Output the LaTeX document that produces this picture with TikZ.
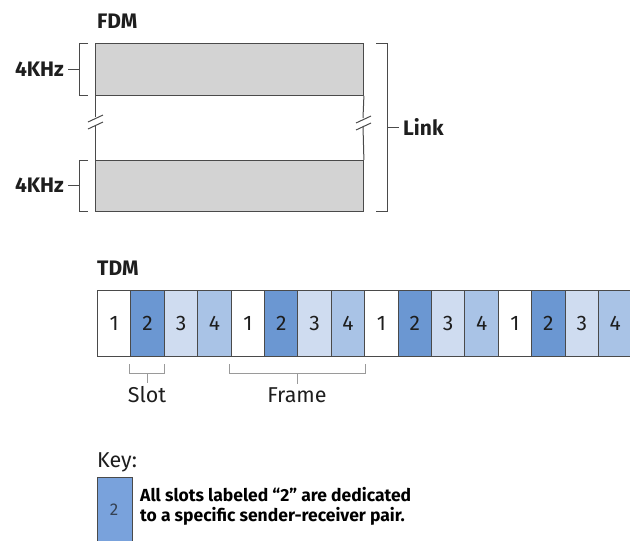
\documentclass[tikz,border=0pt]{standalone}
\usepackage{fontspec}
\setmainfont{Fira Sans}
\definecolor{barfill}{HTML}{D3D3D3}
\definecolor{lineclr}{HTML}{4A4A4A}
\definecolor{stwo}{HTML}{6B97D2}
\definecolor{sthree}{HTML}{CFDCF0}
\definecolor{sfour}{HTML}{A9C3E6}
\definecolor{keyblue}{HTML}{79A2DC}
\definecolor{bracegray}{HTML}{9A9A9A}
\definecolor{txt}{HTML}{1E1E1E}
\tikzset{
  bar/.style={fill=barfill, draw=lineclr, line width=0.9pt},
  brk/.style={draw=lineclr, line width=1pt},
  slotbox/.style={draw=lineclr, line width=1pt, minimum width=33.4pt, minimum height=66pt, inner sep=0pt, anchor=north west, font=\fontsize{21}{21}\selectfont, text=txt},
  lbl/.style={font=\bfseries\fontsize{21}{21}\selectfont, text=txt, inner sep=0pt},
  reglbl/.style={font=\fontsize{21.5}{21.5}\selectfont, text=txt, inner sep=0pt},
  brace/.style={draw=bracegray, line width=0.9pt},
  keytext/.style={anchor=west, inner sep=0pt, font=\bfseries\fontsize{17.5}{17.5}\selectfont, text=black}
}
\begin{document}
\begin{tikzpicture}[x=1pt,y=-1pt]
\useasboundingbox (0,0) rectangle (630,541);
\clip (0,0) rectangle (630,541);
% ---------- FDM ----------
\node[lbl, anchor=west] (fdm) at (97,21) {FDM};
\node[bar, anchor=north west, minimum width=268pt, minimum height=52pt, inner sep=0pt] (topbar) at (95,43) {};
\node[bar, anchor=north west, minimum width=268pt, minimum height=51pt, inner sep=0pt] (botbar) at (95,160) {};
% side lines with breaks
\coordinate (lb1) at (95,117);
\coordinate (lb2) at (95,125);
\coordinate (rb1) at (363,118);
\coordinate (rb2) at (363,126);
\draw[brk] (topbar.south west) -- (lb1);
\draw[brk] (lb2) -- (botbar.north west);
\draw[brk] (88,122) -- (103,115);
\draw[brk] (88,129) -- (103,122);
\draw[brk] (topbar.south east) -- (rb1);
\draw[brk] (rb2) -- (botbar.north east);
\draw[brk] (356,123) -- (371,116);
\draw[brk] (356,130) -- (371,123);
% left brackets
\draw[brk] (88,43) -- (79,43) -- (79,95) -- (88,95);
\draw[brk] (79,69) -- (68,69);
\node[lbl, anchor=east] (k1) at (64,69) {4KHz};
\draw[brk] (88,160) -- (79,160) -- (79,211) -- (88,211);
\draw[brk] (79,185) -- (68,185);
\node[lbl, anchor=east] (k2) at (64,185) {4KHz};
% right bracket
\draw[brk] (376,43) -- (387,43) -- (387,211) -- (376,211);
\draw[brk] (387,127) -- (399,127);
\node[lbl, anchor=west] (link) at (403,127) {Link};
% ---------- TDM ----------
\node[lbl, anchor=west] (tdm) at (97,268) {TDM};
\foreach \i in {0,...,15} {
  \pgfmathtruncatemacro{\n}{mod(\i,4)+1}
  \ifcase\n\or
    \def\fc{white}\or \def\fc{stwo}\or \def\fc{sthree}\or \def\fc{sfour}\fi
  \node[slotbox, fill=\fc] (s\i) at ({97+33.4*\i},290) {\n};
}
% braces
\coordinate (sb) at (147,383);
\draw[brace] (129,364) -- (129,373) -- (164,373) -- (164,364);
\draw[brace] (147,373) -- (sb);
\node[reglbl, anchor=north] (slot) at (147,386) {Slot};
\coordinate (fb) at (297,384);
\draw[brace] (229,364) -- (229,373) -- (365,373) -- (365,364);
\draw[brace] (297,373) -- (fb);
\node[reglbl, anchor=north] (frame) at (297,387) {Frame};
% ---------- Key ----------
\node[reglbl, anchor=west] (key) at (97,462) {Key:};
\node[draw=lineclr, line width=0.8pt, fill=keyblue, anchor=north west, minimum width=35pt, minimum height=70pt, inner sep=0pt] (kbox) at (97,477) {};
\node[font=\fontsize{17}{17}\selectfont, text=txt!70!stwo] (k2txt) at (114,510) {2};
\node[keytext] (keytxt1) at (140,495) {All slots labeled “2” are dedicated};
\node[keytext] (keytxt2) at (140,516) {to a specific sender-receiver pair.};
\end{tikzpicture}
\end{document}
